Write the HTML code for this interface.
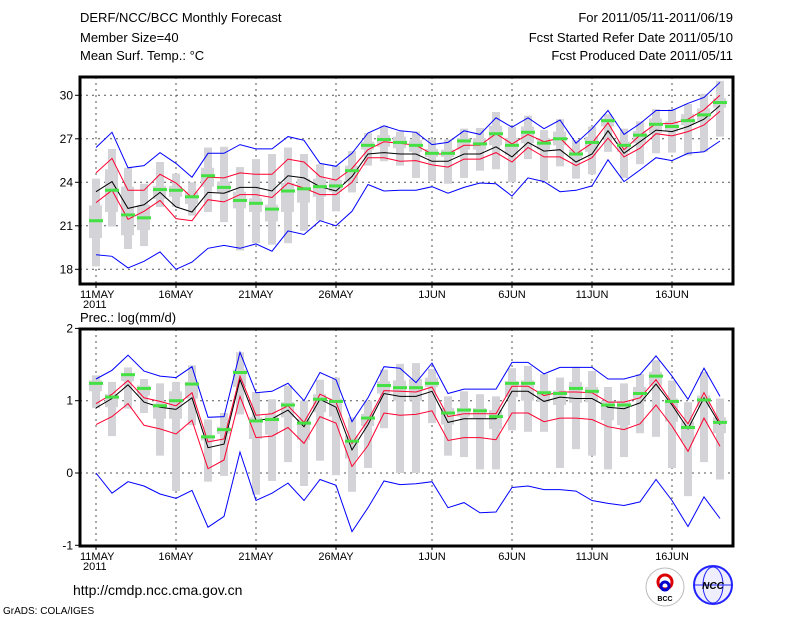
<!DOCTYPE html>
<html><head><meta charset="utf-8"><style>
body{margin:0;background:#fff;}
svg text{font-family:"Liberation Sans",sans-serif;fill:#000;}
</style></head><body>
<svg id="c" width="800" height="618" xmlns="http://www.w3.org/2000/svg">
<text x="80" y="22" font-size="13">DERF/NCC/BCC Monthly Forecast</text>
<text x="80" y="42" font-size="13">Member Size=40</text>
<text x="80" y="60" font-size="13">Mean Surf. Temp.: °C</text>
<text x="733" y="22" font-size="13" text-anchor="end">For 2011/05/11-2011/06/19</text>
<text x="733" y="42" font-size="13" text-anchor="end">Fcst Started Refer Date 2011/05/10</text>
<text x="733" y="60" font-size="13" text-anchor="end">Fcst Produced Date 2011/05/11</text>
<text x="80" y="322" font-size="13">Prec.: log(mm/d)</text>
<text x="73" y="595" font-size="14">http://cmdp.ncc.cma.gov.cn</text>
<text x="3" y="614" font-size="10">GrADS: COLA/IGES</text>
<g><circle cx="665" cy="587" r="19" fill="#fff" stroke="#bbb"/><circle cx="665" cy="582" r="7" fill="none" stroke="#d00" stroke-width="3"/><circle cx="665" cy="586" r="4" fill="none" stroke="#00c" stroke-width="3"/><text x="665" y="601" font-size="7" text-anchor="middle" font-weight="bold">BCC</text></g>
<g><circle cx="713" cy="585" r="19" fill="#eef" stroke="#22f" stroke-width="2"/><ellipse cx="713" cy="585" rx="10" ry="18" fill="none" stroke="#22f"/><line x1="694" y1="585" x2="732" y2="585" stroke="#22f"/><text x="713" y="589" font-size="10" text-anchor="middle" fill="#22f" font-weight="bold" font-style="italic">NCC</text></g>
</svg>
<script>
const dayLabels=["11MAY","16MAY","21MAY","26MAY","1JUN","6JUN","11JUN","16JUN"];
const labelDays=[0,5,10,15,21,26,31,36];
const tTicks=[18,21,24,27,30];
const pTicks=[-1,0,1,2];
const tMax=[26.4,27.45,25.0,25.15,26.05,25.3,24.35,26.0,26.0,26.6,26.3,26.3,27.15,26.9,25.3,25.1,26.0,27.4,27.9,27.55,27.45,26.6,26.75,27.55,27.3,28.45,27.8,28.45,27.7,28.3,26.7,27.7,28.95,27.3,28.05,28.95,28.95,29.45,29.85,30.9];
const tUp=[24.65,25.65,23.45,23.45,24.55,23.95,22.95,24.35,24.3,24.65,24.55,24.55,25.6,25.4,24.4,24.15,24.95,26.25,26.8,26.7,26.55,25.95,25.95,26.55,26.55,27.35,26.65,27.3,26.8,27.05,25.95,26.7,28.1,26.25,27.25,28.05,28.05,28.35,29.0,30.0];
const tMean=[23.35,24.05,22.2,22.45,23.3,22.3,21.95,23.3,23.25,23.65,23.65,23.4,24.45,24.3,23.7,23.4,24.4,25.95,26.05,25.95,25.95,25.45,25.45,25.95,25.95,26.45,25.75,26.75,26.15,26.25,25.4,25.95,27.55,26.0,26.8,27.6,27.5,27.85,28.35,29.3];
const tLo=[22.6,23.45,21.45,22.0,22.75,21.5,21.35,22.8,22.65,23.15,23.15,22.95,23.95,23.6,23.15,23.15,24.0,25.7,25.7,25.45,25.5,25.2,25.05,25.6,25.6,26.05,25.4,26.4,25.75,25.75,25.15,25.7,27.05,25.75,26.35,27.35,27.2,27.5,27.95,28.9];
const tMin=[19.0,18.9,18.1,18.55,19.2,18.0,18.5,19.45,19.65,19.45,19.75,19.25,20.65,20.4,21.35,21.0,22.0,23.85,23.4,23.45,23.45,23.7,23.25,23.65,23.95,23.9,23.05,24.3,24.05,23.35,23.45,23.75,25.55,24.05,24.85,25.7,25.5,26.0,26.1,26.85];
const tGreen=[21.35,23.45,21.75,21.55,23.5,23.45,23.0,24.45,23.65,22.75,22.55,22.15,23.4,23.55,23.7,23.75,24.8,26.55,26.95,26.75,26.55,26.0,26.0,26.85,26.65,27.35,26.55,27.45,26.7,27.0,25.95,26.75,28.25,26.55,27.25,28.0,27.85,28.25,28.65,29.5];
const tRangeHi=[24.25,26.3,25.0,23.9,25.4,24.6,24.0,26.4,26.45,25.05,25.6,25.95,26.4,25.95,25.25,25.15,26.15,27.4,27.9,27.5,27.5,26.95,26.95,27.7,27.75,28.85,27.8,28.6,27.6,28.35,26.9,27.85,28.7,27.7,28.2,29.05,29.05,29.4,30.1,31.0];
const tRangeLo=[18.2,20.95,19.4,19.6,22.3,22.3,21.7,21.95,21.25,19.3,19.8,19.7,19.8,20.65,21.35,22.0,23.3,25.15,25.45,25.15,24.3,24.1,23.9,24.3,24.8,24.9,24.0,25.6,24.1,25.1,24.25,24.55,26.1,24.3,25.25,26.0,26.05,25.85,26.1,27.15];
const tBoxHi=[22.4,24.9,23.7,22.45,23.75,23.75,23.35,25.0,24.05,23.35,22.9,22.45,23.95,24.25,24.25,24.15,25.15,26.8,27.25,27.15,26.9,26.3,26.25,27.05,27.05,27.9,27.05,27.85,27.05,27.5,26.25,27.15,28.4,26.8,27.55,28.4,28.2,28.7,29.1,29.8];
const tBoxLo=[20.15,21.95,20.35,20.7,22.85,23.0,22.5,23.7,23.25,22.2,21.95,21.3,21.95,22.6,23.0,23.35,24.1,26.25,26.45,26.35,26.1,25.75,25.75,26.25,26.25,26.55,25.9,26.7,26.25,26.55,25.65,26.1,27.85,26.1,26.7,27.4,27.5,27.95,28.25,29.15];
const pMax=[1.3,1.42,1.63,1.41,1.34,1.32,1.47,0.77,0.78,1.67,1.11,1.13,1.24,1.0,1.39,1.29,0.71,1.04,1.47,1.45,1.25,1.52,1.1,1.16,1.16,1.16,1.53,1.53,1.37,1.46,1.46,1.46,1.3,1.3,1.36,1.62,1.34,1.02,1.45,1.06];
const pUp=[0.96,1.09,1.28,1.04,0.99,0.93,1.11,0.43,0.47,1.34,0.8,0.82,0.93,0.7,1.09,0.98,0.41,0.73,1.14,1.13,1.12,1.19,0.78,0.82,0.82,0.82,1.2,1.2,1.07,1.12,1.12,1.11,0.98,0.98,1.04,1.29,0.97,0.68,1.11,0.7];
const pMean=[0.9,1.03,1.22,0.98,0.91,0.88,1.04,0.35,0.4,1.29,0.73,0.75,0.87,0.64,1.02,0.91,0.32,0.67,1.1,1.06,1.06,1.13,0.7,0.75,0.75,0.75,1.13,1.13,0.99,1.05,1.03,1.03,0.91,0.89,0.97,1.23,0.94,0.61,1.04,0.67];
const pLo=[0.67,0.78,0.96,0.66,0.61,0.54,0.73,0.06,0.18,1.06,0.49,0.51,0.63,0.41,0.78,0.69,0.09,0.38,0.83,0.8,0.81,0.86,0.45,0.49,0.49,0.46,0.83,0.83,0.71,0.76,0.76,0.74,0.64,0.6,0.68,0.94,0.65,0.3,0.76,0.37];
const pMin=[0.0,-0.28,-0.12,-0.18,-0.29,-0.35,-0.24,-0.75,-0.6,0.29,-0.38,-0.28,-0.14,-0.38,-0.09,-0.17,-0.81,-0.48,-0.11,-0.16,-0.15,-0.12,-0.48,-0.41,-0.55,-0.54,-0.2,-0.18,-0.23,-0.23,-0.25,-0.38,-0.42,-0.45,-0.4,-0.09,-0.38,-0.74,-0.33,-0.63];
const pGreen=[1.24,1.05,1.36,1.17,0.93,1.0,1.23,0.5,0.6,1.39,0.72,0.74,0.94,0.69,1.02,0.99,0.44,0.76,1.21,1.18,1.18,1.24,0.83,0.87,0.86,0.78,1.24,1.24,1.11,1.1,1.17,1.13,0.94,0.94,1.1,1.34,0.99,0.63,1.01,0.7];
const pRangeHi=[1.35,1.26,1.46,1.3,1.24,1.26,1.49,0.74,0.83,1.67,1.12,1.02,1.21,1.0,1.29,1.32,0.77,1.0,1.43,1.51,1.52,1.44,1.06,1.13,1.09,1.06,1.45,1.48,1.37,1.32,1.47,1.41,1.19,1.24,1.37,1.56,1.28,0.98,1.4,1.03];
const pRangeLo=[0.9,0.51,0.89,0.83,0.24,-0.25,0.66,-0.12,-0.04,0.81,-0.3,-0.11,0.15,-0.18,0.17,-0.03,-0.26,0.07,0.62,0.0,0.0,0.69,0.24,0.22,0.05,0.05,0.59,0.57,0.57,0.07,0.33,0.24,0.05,0.22,0.55,0.5,0.07,-0.32,0.15,-0.09];
const pBoxHi=[1.28,1.09,1.37,1.21,0.96,1.13,1.26,0.52,0.64,1.43,0.77,0.8,0.98,0.75,1.09,1.03,0.52,0.82,1.27,1.28,1.3,1.32,0.9,0.9,0.9,0.87,1.27,1.28,1.14,1.14,1.26,1.19,1.0,1.0,1.19,1.4,1.03,0.71,1.07,0.77];
const pBoxLo=[1.13,0.91,1.27,1.07,0.75,0.75,1.03,0.45,0.54,1.19,0.47,0.53,0.77,0.46,0.84,0.78,0.2,0.65,1.1,1.0,1.0,1.19,0.67,0.78,0.76,0.61,1.05,1.0,0.98,0.94,0.97,0.98,0.73,0.66,1.01,1.21,0.71,0.43,0.91,0.55];

const svg=document.getElementById('c');
const NS='http://www.w3.org/2000/svg';
function mk(tag,at,parent){const e=document.createElementNS(NS,tag);for(const k in at)e.setAttribute(k,at[k]);(parent||svg).appendChild(e);return e;}
const X=d=>96+16*d;
const L=80,R=733;

function panel(name,top,bottom,yf,ticks,S){
  const g=mk('g',{});
  
  
  // grid
  ticks.forEach(t=>{const y=yf(t);if(y>top+2&&y<bottom-2){const l=mk('line',{x1:L,x2:R,y1:y,y2:y,stroke:'#555','stroke-dasharray':'2,4','stroke-width':1},g);}});
  labelDays.forEach(d=>{const l=mk('line',{x1:X(d),x2:X(d),y1:top,y2:bottom,stroke:'#555','stroke-dasharray':'2,4','stroke-width':1},g);});
  // boxes
  for(let i=0;i<40;i++){
    const r1=mk('rect',{x:X(i)-4,width:8,y:yf(S.rh[i]),height:yf(S.rl[i])-yf(S.rh[i]),fill:'#d4d4d8'},g);
    
    
    const r2=mk('rect',{x:X(i)-7,width:13,y:yf(S.bh[i]),height:yf(S.bl[i])-yf(S.bh[i]),fill:'#d4d4d8'},g);
    
    
  }
  const lines=[[S.max,'#0000ff','max-line'],[S.min,'#0000ff','min-line'],[S.up,'#ff0030','upper-line'],[S.lo,'#ff0030','lower-line'],[S.mean,'#000','mean-line']];
  lines.forEach(([a,c,n])=>{const p=mk('polyline',{points:a.map((v,i)=>X(i)+','+yf(v).toFixed(1)).join(' '),fill:'none',stroke:c,'stroke-width':1},g);});
  for(let i=0;i<40;i++){
    const gm=mk('rect',{x:X(i)-7,width:14,y:yf(S.g[i])-1.5,height:3,fill:'#44e044'},g);
    
    
  }
  const f=mk('rect',{x:L,y:top,width:R-L,height:bottom-top,fill:'none',stroke:'#000','stroke-width':3},g);
  
  
  ticks.forEach(t=>{const y=yf(t);mk('line',{x1:L-5,x2:L,y1:y,y2:y,stroke:'#000'},g);const tx=mk('text',{x:L-7,y:y+4,'font-size':12,'text-anchor':'end'},g);tx.textContent=t;});
  labelDays.forEach((d,k)=>{mk('line',{x1:X(d),x2:X(d),y1:bottom,y2:bottom+4,stroke:'#000'},g);const tx=mk('text',{x:X(d)-(k==0?16:0),y:bottom+14,'font-size':11,'text-anchor':k==0?'start':'middle'},g);tx.textContent=dayLabels[k];});
  const yr=mk('text',{x:X(0)-13,y:bottom+24,'font-size':11},g);yr.textContent='2011';
  
  
}
panel('temperature-panel',77,284,v=>182.3-(v-24)*14.5,tTicks,{max:tMax,up:tUp,mean:tMean,lo:tLo,min:tMin,g:tGreen,rh:tRangeHi,rl:tRangeLo,bh:tBoxHi,bl:tBoxLo});
panel('precip-panel',329,546,v=>473-v*72.3,pTicks,{max:pMax,up:pUp,mean:pMean,lo:pLo,min:pMin,g:pGreen,rh:pRangeHi,rl:pRangeLo,bh:pBoxHi,bl:pBoxLo});
</script>
</body></html>
